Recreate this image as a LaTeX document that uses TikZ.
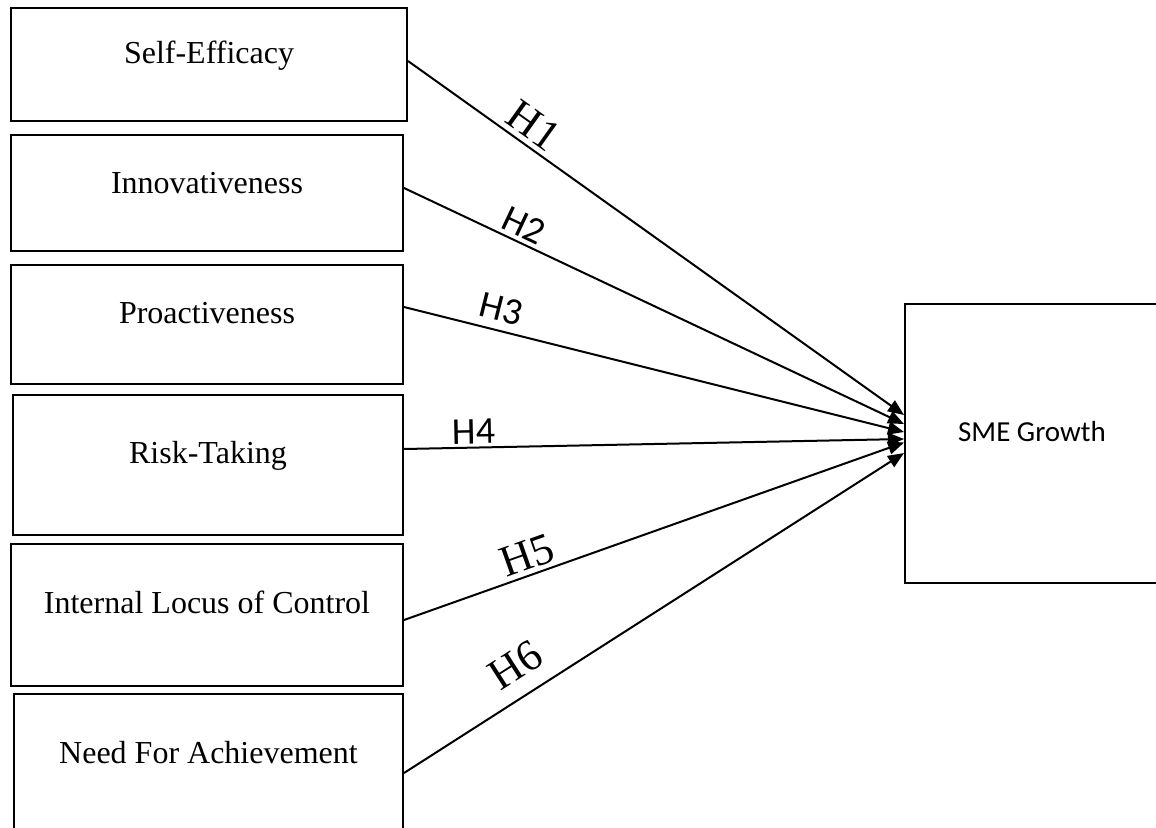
\documentclass[tikz,border=0pt]{standalone}
\usepackage{fontspec}
\setmainfont{Liberation Serif}
\newfontfamily\calibri{Carlito}
\usetikzlibrary{arrows.meta}

\begin{document}
\begin{tikzpicture}[
  x=1pt, y=-1pt,
  factor/.style={rectangle, draw, line width=2pt, anchor=north west, inner sep=0pt},
  ftext/.style={anchor=base, inner sep=0pt, font=\fontsize{32}{38}\selectfont},
  link/.style={draw, line width=2pt, -{Triangle[length=16pt,width=13pt]}},
  hser/.style={sloped, inner sep=1pt, font=\fontsize{44}{50}\selectfont},
  hsans/.style={sloped, inner sep=1pt, font=\calibri\fontsize{38}{44}\selectfont}
]
\useasboundingbox (0,0) rectangle (1156,827);
\clip (0,0) rectangle (1156,827);

\node [factor, minimum width=396, minimum height=113] (se) at (10,7) {};
\node [factor, minimum width=392, minimum height=116] (inn) at (10,134) {};
\node [factor, minimum width=392, minimum height=119] (pro) at (10,264) {};
\node [factor, minimum width=390, minimum height=140] (risk) at (12,394) {};
\node [factor, minimum width=392, minimum height=142] (loc) at (10,543) {};
\node [factor, minimum width=389, minimum height=150] (nach) at (13,693) {};
\node [factor, minimum width=256, minimum height=279] (sme) at (904,303) {};

\node [ftext] (se-t) at ([yshift=-56]se.north) {Self-Efficacy};
\node [ftext] (inn-t) at ([yshift=-59]inn.north) {Innovativeness};
\node [ftext] (pro-t) at ([yshift=-59]pro.north) {Proactiveness};
\node [ftext] (risk-t) at ([yshift=-69]risk.north) {Risk-Taking};
\node [ftext] (loc-t) at ([yshift=-70]loc.north) {Internal Locus of Control};
\node [ftext] (nach-t) at ([yshift=-70]nach.north) {Need For Achievement};
\node [anchor=base, inner sep=0pt, font=\calibri\fontsize{29}{34}\selectfont] (sme-t) at (1032,441) {SME Growth};

\path [link] ([yshift=3.5]se.east) -- node [hser, above=4pt, pos=0.23] {H1} ([yshift=28.5]sme.west);
\path [link] ([yshift=5]inn.east) -- node [hsans, above=3pt, pos=0.225] {H2} ([yshift=19.5]sme.west);
\path [link] ([yshift=17.5]pro.east) -- node [hsans, above=7pt, pos=0.185] {H3} ([yshift=11.5]sme.west);
\path [link] ([yshift=16]risk.east) -- node [hsans, above=2pt, pos=0.14] {H4} ([yshift=4.5]sme.west);
\path [link] ([yshift=-5]loc.east) -- node [hser, above=3pt, pos=0.26] {H5} ([yshift=1]sme.west);
\path [link] ([yshift=-4]nach.east) -- node [hser, above=14pt, pos=0.256] {H6} ([yshift=-9.5]sme.west);

\end{tikzpicture}
\end{document}
